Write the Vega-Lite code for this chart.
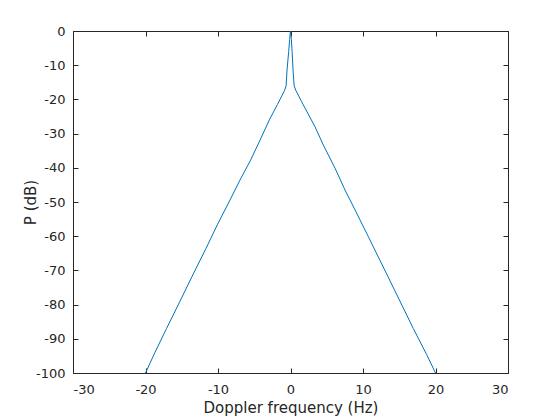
{
  "$schema": "https://vega.github.io/schema/vega-lite/v6.json",
  "width": 435,
  "height": 342,
  "autosize": {"type": "none"},
  "padding": {"left": 73, "top": 31, "right": 52, "bottom": 47},
  "background": "white",
  "config": {
    "view": {"stroke": null},
    "axis": {
      "grid": false,
      "domainColor": "#262626",
      "domainWidth": 1,
      "tickColor": "#262626",
      "tickSize": -5,
      "tickWidth": 1,
      "labelColor": "#262626",
      "labelFont": "DejaVu Sans",
      "labelFontSize": 13,
      "titleFont": "DejaVu Sans",
      "titleFontSize": 15,
      "titleFontWeight": "normal",
      "titleColor": "#262626"
    }
  },
  "data": {
    "values": [
      {"f": -20, "p": -100},
      {"f": -18.7, "p": -94.0},
      {"f": -17.1, "p": -87.0},
      {"f": -15.24, "p": -79.0},
      {"f": -13.4, "p": -71.0},
      {"f": -11.66, "p": -63.6},
      {"f": -10.1, "p": -56.7},
      {"f": -8.34, "p": -49.4},
      {"f": -6.97, "p": -43.6},
      {"f": -5.49, "p": -37.7},
      {"f": -4.2, "p": -31.9},
      {"f": -2.92, "p": -26.0},
      {"f": -1.8, "p": -21.5},
      {"f": -0.8, "p": -17.3},
      {"f": -0.6, "p": -16.0},
      {"f": -0.48, "p": -11.4},
      {"f": -0.25, "p": -6},
      {"f": -0.12, "p": -2.5},
      {"f": 0, "p": 0},
      {"f": 0.12, "p": -2.5},
      {"f": 0.22, "p": -6},
      {"f": 0.35, "p": -11.4},
      {"f": 0.5, "p": -16.0},
      {"f": 0.72, "p": -17.3},
      {"f": 1.54, "p": -20.7},
      {"f": 3.38, "p": -28},
      {"f": 4.52, "p": -33.3},
      {"f": 6.14, "p": -40.1},
      {"f": 7.52, "p": -46.5},
      {"f": 8.9, "p": -52.3},
      {"f": 10.73, "p": -60.1},
      {"f": 12.58, "p": -68.1},
      {"f": 14.41, "p": -76.0},
      {"f": 16.94, "p": -87.0},
      {"f": 18.78, "p": -94.6},
      {"f": 20, "p": -100}
    ]
  },
  "layer": [
    {
      "mark": {"type": "line", "color": "#0072BD", "strokeWidth": 1, "clip": true},
      "encoding": {
        "x": {"field": "f", "type": "quantitative",
              "scale": {"domain": [-30, 30], "nice": false, "zero": false},
              "axis": {"orient": "bottom", "title": "Doppler frequency (Hz)", "values": [-30, -20, -10, 0, 10, 20, 30], "labelPadding": 15, "titlePadding": 4,
                       "labelExpr": "datum.value < 0 ? '-' + abs(datum.value) : '' + datum.value"}},
        "y": {"field": "p", "type": "quantitative",
              "scale": {"domain": [-100, 0], "nice": false, "zero": false},
              "axis": {"orient": "left", "title": "P (dB)", "values": [-100, -90, -80, -70, -60, -50, -40, -30, -20, -10, 0], "labelPadding": 13, "titleX": -35,
                       "labelExpr": "datum.value < 0 ? '-' + abs(datum.value) : '' + datum.value"}},
        "order": {"field": "f", "type": "quantitative"}
      }
    },
    {
      "mark": {"type": "line", "opacity": 0, "clip": true},
      "encoding": {
        "x": {"field": "f", "type": "quantitative",
              "axis": {"orient": "top", "title": null, "labels": false, "values": [-30, -20, -10, 0, 10, 20, 30]}},
        "y": {"field": "p", "type": "quantitative",
              "axis": {"orient": "right", "title": null, "labels": false, "values": [-100, -90, -80, -70, -60, -50, -40, -30, -20, -10, 0]}}
      }
    }
  ],
  "resolve": {"axis": {"x": "independent", "y": "independent"}}
}
